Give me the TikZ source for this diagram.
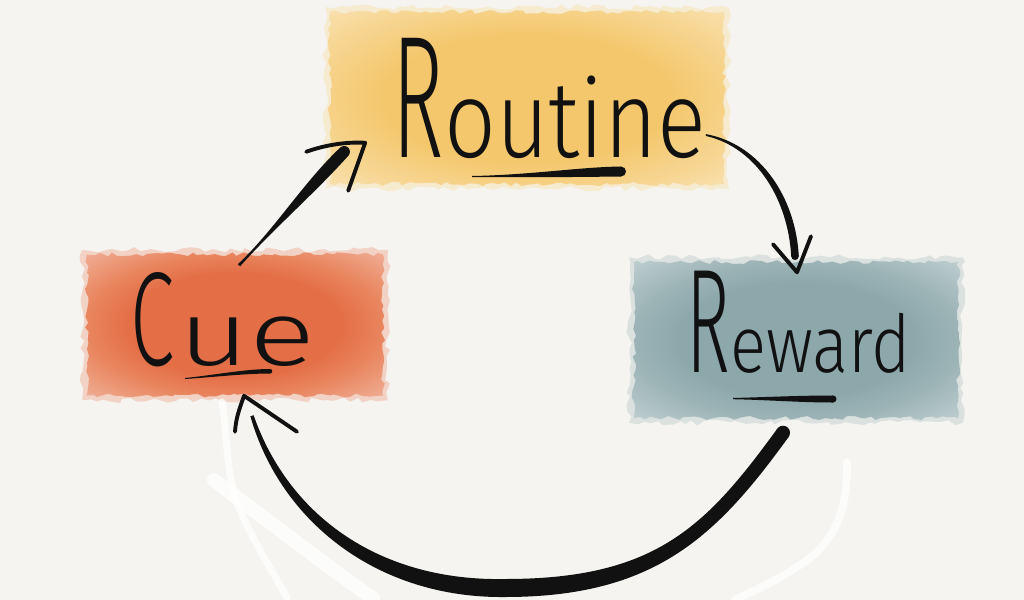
\documentclass[tikz,border=0pt]{standalone}
\usepackage{fontspec}
\usepackage{graphicx}
\usetikzlibrary{decorations.pathmorphing,calc}
\newfontfamily\handL{Fira Sans Light}
\definecolor{paper}{HTML}{F5F4F0}
\definecolor{ink}{HTML}{111111}
\definecolor{yIn}{HTML}{F4C76C}
\definecolor{yMid}{HTML}{F6D186}
\definecolor{yOut}{HTML}{F8DEA8}
\definecolor{cIn}{HTML}{E46F47}
\definecolor{cMid}{HTML}{E9865F}
\definecolor{cOut}{HTML}{EFAA90}
\definecolor{rIn}{HTML}{8DA8AB}
\definecolor{rMid}{HTML}{9DB4B7}
\definecolor{rOut}{HTML}{BACBCC}
\pgfdeclarelayer{paperlayer}
\pgfdeclarelayer{background}
\pgfsetlayers{paperlayer,background,main}
\pgfdeclareradialshading{yshade}{\pgfpoint{0bp}{0bp}}{color(0bp)=(yIn); color(18bp)=(yIn); color(25bp)=(yMid); color(34bp)=(yOut); color(50bp)=(yOut)}
\pgfdeclareradialshading{cshade}{\pgfpoint{0bp}{0bp}}{color(0bp)=(cIn); color(18bp)=(cIn); color(25bp)=(cMid); color(34bp)=(cOut); color(50bp)=(cOut)}
\pgfdeclareradialshading{rshade}{\pgfpoint{0bp}{0bp}}{color(0bp)=(rIn); color(18bp)=(rIn); color(25bp)=(rMid); color(34bp)=(rOut); color(50bp)=(rOut)}
\newcommand\hw[3]{\scalebox{#1}[1]{\fontsize{#2}{#2}\selectfont #3}}
\tikzset{
  wc/.style={rectangle, inner sep=0pt, shade, decorate,
    decoration={random steps, segment length=1.6pt, amplitude=0.6pt}},
  halo/.style={opacity=.45, decorate,
    decoration={random steps, segment length=2pt, amplitude=0.8pt}},
  word/.style={anchor=base west, inner sep=0pt, text=ink, font=\handL},
  head/.style={draw=ink, line width=1.1pt, line cap=round, line join=round},
  eraser/.style={draw=white, opacity=.75, line cap=round, line join=round}
}
\begin{document}
\begin{tikzpicture}[x=0.01cm, y=-0.01cm]
\useasboundingbox (0,0) rectangle (1024,600);
\begin{pgfonlayer}{paperlayer}
\fill[paper] (0,0) rectangle (1024,600);
\end{pgfonlayer}

% boxes
\node[wc, shading=yshade, minimum width=3.94cm, minimum height=1.72cm] (routine) at (527,98) {};
\node[wc, shading=cshade, minimum width=2.96cm, minimum height=1.41cm] (cue) at (235,325) {};
\node[wc, shading=rshade, minimum width=3.24cm, minimum height=1.56cm] (reward) at (796,340) {};

\begin{pgfonlayer}{background}
\foreach \n/\c in {routine/yOut, cue/cOut, reward/rOut}
  \fill[\c, halo] ($(\n.north west)+(-4,-4)$) rectangle ($(\n.south east)+(4,4)$);
\end{pgfonlayer}

% words
\node[word] (routinetext) at (392,157) {\hw{0.5}{49.5pt}{R}\hw{0.84}{30.8pt}{outine}};
\node[word] (cuetext) at (130,365) {\hw{0.6}{38pt}{C}\hspace{1pt}\hw{1.35}{25.9pt}{ue}};
\node[word] (rewardtext) at (686,372) {\hw{0.5}{42.1pt}{R}\hw{0.84}{22.7pt}{eward}};

% underlines
\fill[ink] (472,176) .. controls (530,175) and (580,167) .. (621,166.5) -- (621,176.5) .. controls (580,177) and (530,177.5) .. (472,177) -- cycle;
\fill[ink] (621,171.5) circle[radius=1.42pt];
\fill[ink] (185,378) .. controls (215,375) and (245,369) .. (270,369) -- (270,373.5) .. controls (245,373.5) and (215,377) .. (185,379) -- cycle;
\fill[ink] (270,371.25) circle[radius=0.65pt];
\fill[ink] (733,398) .. controls (770,397) and (800,395.5) .. (833,395.5) -- (833,402.5) .. controls (800,402.5) and (770,400) .. (733,399.2) -- cycle;
\fill[ink] (833,399) circle[radius=1pt];

% eraser marks
\draw[eraser, line width=2pt] (222,402) .. controls (228,440) and (226,480) .. (240,510) .. controls (255,545) and (275,575) .. (287,598);
\draw[eraser, line width=4pt] (214,480) .. controls (240,500) and (280,530) .. (320,560) .. controls (345,578) and (360,590) .. (373,598);
\draw[eraser, line width=2.2pt] (847,462) .. controls (848,500) and (840,540) .. (800,565) .. controls (770,585) and (750,592) .. (735,600);

% connector points
\coordinate (a1s) at ($(cue.north)+(4,11.5)$);
\coordinate (a1e) at ($(routine.south west)+(15,-33)$);
\coordinate (a1t) at ($(routine.south west)+(36,-42)$);
\coordinate (a2s) at ($(routine.east)+(-19,37)$);
\coordinate (a2e) at ($(reward.north)+(-1,-5)$);
\coordinate (a2t) at ($(reward.north)+(1,11)$);
\coordinate (a3s) at ($(reward.south)+(-13,14)$);
\coordinate (a3e) at ($(cue.south)+(17,19.5)$);
\coordinate (a3t) at ($(cue.south)+(9,-0.5)$);

% cue -> routine
\fill[ink] ($(a1s)+(1.1,1)$) .. controls +(33,-37) and +(-33,37) .. ($(a1e)+(4.2,3.9)$) -- ($(a1e)+(-4.2,-3.9)$) .. controls +(-37,35) and +(37,-35) .. ($(a1s)+(-1.1,-1)$) -- cycle;
\fill[ink] (a1e) circle[radius=1.63pt];
\draw[head] ($(a1t)+(-59,9)$) .. controls +(20,-7) and +(-19,-1) .. (a1t) -- ($(a1t)+(-17,48)$);

% routine -> reward
\fill[ink] ($(a2s)+(0,-0.9)$) .. controls +(55,10) and +(-3,-58) .. ($(a2e)+(3.8,0)$) -- ($(a2e)+(-3.8,0)$) .. controls +(-3,-55) and +(52,12) .. ($(a2s)+(0,0.9)$) -- cycle;
\fill[ink] (a2e) circle[radius=1.08pt];
\draw[head] ($(a2t)+(-24,-28)$) -- (a2t) -- ($(a2t)+(14,-36)$);

% reward -> cue
\fill[ink] ($(a3s)+(5.6,4.2)$) .. controls (716.5,536.5) and (655,597) .. (505,597) .. controls (378,598.5) and (280.5,522) .. ($(a3e)+(-1.6,0.5)$) -- ($(a3e)+(1.6,-0.5)$) .. controls (289.5,518) and (382,581.5) .. (505,579) .. controls (655,579) and (705.5,527.5) .. ($(a3s)+(-5.6,-4.2)$) -- cycle;
\fill[ink] (a3s) circle[radius=2pt];
\draw[head] ($(a3t)+(-9,36)$) .. controls +(1,-15) and +(-4,12) .. (a3t) -- ($(a3t)+(53,36)$);
\end{tikzpicture}
\end{document}
